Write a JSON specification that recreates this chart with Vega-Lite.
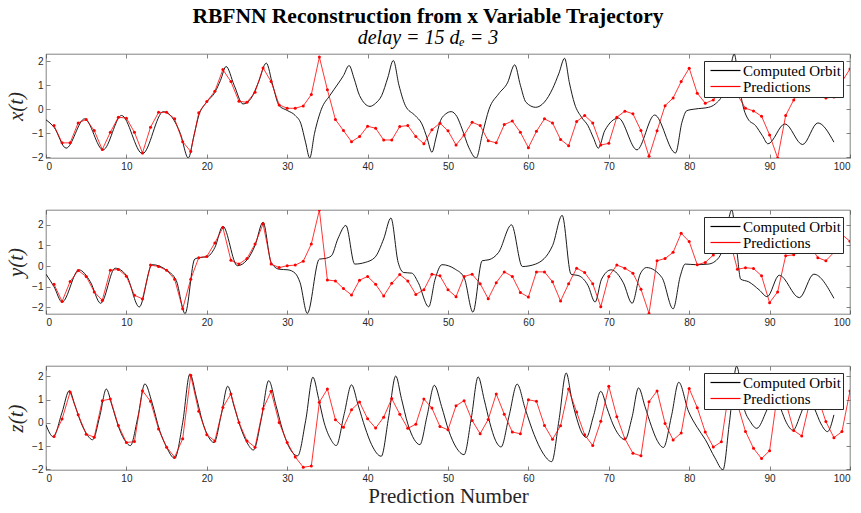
{
  "$schema": "https://vega.github.io/schema/vega-lite/v6.json",
  "background": "white",
  "padding": {"left": 5, "top": 5, "right": 9, "bottom": 4},
  "title": {
    "text": "RBFNN Reconstruction from x Variable Trajectory",
    "subtitle": "delay = 15  dₑ = 3",
    "font": "Liberation Serif", "fontSize": 21.5, "fontWeight": "bold", "color": "black",
    "subtitleFont": "Liberation Serif", "subtitleFontSize": 20, "subtitleFontStyle": "italic", "subtitleColor": "black",
    "anchor": "middle", "offset": 5, "subtitlePadding": 1
  },
  "spacing": 37,
  "datasets": {
    "orbitX": [
      {"t":0,"v":-0.44},{"t":1.0,"v":-0.75},{"t":2.5,"v":-1.62},{"t":4.8,"v":-0.40},{"t":7.1,"v":-1.69},{"t":9.4,"v":-0.26},{"t":12.0,"v":-1.85},{"t":14.6,"v":-0.10},{"t":15.7,"v":-0.35},{"t":16.7,"v":-1.0},{"t":17.7,"v":-2.03},{"t":18.4,"v":-1.1},{"t":19.0,"v":-0.26},{"t":20.0,"v":0.30},{"t":21.0,"v":0.70},{"t":21.7,"v":1.2},{"t":22.4,"v":1.78},{"t":23.4,"v":1.0},{"t":24.5,"v":0.22},{"t":25.5,"v":0.45},{"t":26.4,"v":1.1},{"t":27.4,"v":1.92},{"t":28.2,"v":1.0},{"t":29.0,"v":0.15},{"t":30.0,"v":-0.05},{"t":31.0,"v":-0.26},{"t":31.7,"v":-0.6},{"t":32.3,"v":-1.4},{"t":32.8,"v":-2.03},{"t":33.4,"v":-1.0},{"t":34.25,"v":0.0},{"t":35.3,"v":0.57},{"t":36.3,"v":1.05},{"t":37.0,"v":1.4},{"t":37.7,"v":1.82},{"t":38.3,"v":1.3},{"t":39.0,"v":0.57},{"t":40.3,"v":0.12},{"t":41.0,"v":0.25},{"t":41.75,"v":0.57},{"t":42.5,"v":1.3},{"t":43.2,"v":2.03},{"t":43.9,"v":1.0},{"t":44.7,"v":0.15},{"t":45.9,"v":-0.26},{"t":46.75,"v":-0.61},{"t":47.4,"v":-1.2},{"t":48.0,"v":-1.79},{"t":48.5,"v":-1.2},{"t":49.0,"v":-0.54},{"t":49.7,"v":-0.2},{"t":50.4,"v":-0.10},{"t":51.1,"v":-0.3},{"t":51.75,"v":-0.82},{"t":52.6,"v":-1.6},{"t":53.5,"v":-2.03},{"t":54.3,"v":-1.0},{"t":55.1,"v":0.0},{"t":56.3,"v":0.64},{"t":57.4,"v":1.1},{"t":58.3,"v":1.85},{"t":59.0,"v":1.0},{"t":59.7,"v":0.29},{"t":60.9,"v":0.08},{"t":62.0,"v":0.3},{"t":63.0,"v":0.85},{"t":63.8,"v":1.5},{"t":64.5,"v":2.12},{"t":65.1,"v":1.1},{"t":65.75,"v":0.22},{"t":66.6,"v":-0.33},{"t":67.4,"v":-0.68},{"t":68.1,"v":-1.2},{"t":68.7,"v":-1.62},{"t":69.5,"v":-0.89},{"t":71.2,"v":-0.37},{"t":73.5,"v":-1.69},{"t":75.7,"v":-0.24},{"t":78.3,"v":-1.82},{"t":79.1,"v":-0.54},{"t":79.7,"v":-0.06},{"t":80.75,"v":0.01},{"t":82.4,"v":0.08},{"t":83.25,"v":0.22},{"t":84.3,"v":0.71},{"t":85.0,"v":1.5},{"t":85.6,"v":2.3},{"t":86.2,"v":1.0},{"t":86.8,"v":0.0},{"t":87.3,"v":-0.4},{"t":88.25,"v":-0.68},{"t":89.1,"v":-1.1},{"t":89.8,"v":-1.44},{"t":91.9,"v":-0.61},{"t":94.1,"v":-1.47},{"t":96.0,"v":-0.57},{"t":98.0,"v":-1.37}
    ],
    "orbitY": [
      {"t":0,"v":-0.39},{"t":1.0,"v":-1.0},{"t":2.0,"v":-1.74},{"t":4.1,"v":-0.18},{"t":5.5,"v":-0.75},{"t":6.8,"v":-1.80},{"t":8.6,"v":-0.10},{"t":10.0,"v":-0.45},{"t":11.6,"v":-1.98},{"t":13.2,"v":0.07},{"t":15.0,"v":-0.2},{"t":16.2,"v":-0.7},{"t":17.3,"v":-2.3},{"t":18.5,"v":0.34},{"t":19.2,"v":0.42},{"t":20.0,"v":0.45},{"t":21.0,"v":0.9},{"t":22.0,"v":1.93},{"t":23.8,"v":0.02},{"t":25.0,"v":0.3},{"t":26.0,"v":1.0},{"t":27.0,"v":2.13},{"t":28.0,"v":0.18},{"t":29.0,"v":-0.15},{"t":30.1,"v":-0.18},{"t":31.0,"v":-0.35},{"t":31.6,"v":-0.8},{"t":32.5,"v":-2.29},{"t":34.0,"v":0.34},{"t":34.7,"v":0.37},{"t":35.5,"v":0.5},{"t":36.3,"v":1.32},{"t":37.3,"v":1.97},{"t":38.4,"v":0.10},{"t":39.7,"v":0.18},{"t":40.9,"v":0.42},{"t":42.0,"v":1.32},{"t":42.9,"v":2.33},{"t":43.8,"v":0.18},{"t":44.5,"v":-0.31},{"t":45.5,"v":-0.34},{"t":46.3,"v":-0.80},{"t":47.6,"v":-1.97},{"t":48.4,"v":-0.63},{"t":49.25,"v":0.07},{"t":50.9,"v":-0.15},{"t":52.0,"v":-0.55},{"t":53.1,"v":-2.23},{"t":54.25,"v":0.26},{"t":55.1,"v":0.31},{"t":56.3,"v":0.67},{"t":57.9,"v":2.0},{"t":59.25,"v":-0.02},{"t":60.9,"v":0.10},{"t":63.0,"v":0.99},{"t":64.2,"v":2.46},{"t":65.3,"v":-0.39},{"t":66.3,"v":-0.47},{"t":67.4,"v":-0.93},{"t":68.3,"v":-1.74},{"t":69.1,"v":-0.63},{"t":70.3,"v":-0.18},{"t":71.8,"v":-0.80},{"t":72.9,"v":-1.80},{"t":73.9,"v":-0.39},{"t":74.7,"v":-0.07},{"t":76.6,"v":-0.55},{"t":78.0,"v":-2.07},{"t":78.9,"v":-0.47},{"t":79.5,"v":0.10},{"t":80.75,"v":0.07},{"t":82.4,"v":0.10},{"t":83.7,"v":0.42},{"t":84.3,"v":0.99},{"t":85.3,"v":2.72},{"t":85.95,"v":0.67},{"t":86.4,"v":-0.63},{"t":87.4,"v":-0.76},{"t":88.7,"v":-1.15},{"t":89.7,"v":-1.48},{"t":91.2,"v":-0.44},{"t":93.7,"v":-1.53},{"t":95.5,"v":-0.39},{"t":98.0,"v":-1.56}
    ],
    "orbitZ": [
      {"t":0,"v":-0.09},{"t":0.9,"v":-0.60},{"t":2.0,"v":0.45},{"t":2.9,"v":1.38},{"t":3.6,"v":0.75},{"t":4.3,"v":0.05},{"t":5.0,"v":-0.45},{"t":5.8,"v":-0.73},{"t":6.7,"v":0.3},{"t":7.5,"v":1.45},{"t":8.2,"v":0.75},{"t":9.0,"v":-0.15},{"t":9.7,"v":-0.7},{"t":10.5,"v":-0.98},{"t":11.4,"v":0.2},{"t":12.3,"v":1.67},{"t":13.2,"v":0.85},{"t":14.1,"v":-0.3},{"t":15.0,"v":-1.05},{"t":16.0,"v":-1.53},{"t":17.0,"v":0.0},{"t":17.9,"v":2.10},{"t":18.7,"v":1.1},{"t":19.5,"v":0.0},{"t":20.2,"v":-0.6},{"t":20.9,"v":-0.85},{"t":21.8,"v":0.35},{"t":22.6,"v":1.57},{"t":23.4,"v":0.7},{"t":24.2,"v":-0.2},{"t":25.0,"v":-0.85},{"t":25.8,"v":-1.17},{"t":26.8,"v":0.2},{"t":27.7,"v":1.81},{"t":28.6,"v":0.75},{"t":29.5,"v":-0.4},{"t":30.4,"v":-1.15},{"t":31.3,"v":-1.42},{"t":32.3,"v":0.1},{"t":33.2,"v":1.96},{"t":33.9,"v":1.05},{"t":34.6,"v":0.0},{"t":35.4,"v":-0.7},{"t":36.1,"v":-0.98},{"t":37.1,"v":0.4},{"t":38.0,"v":1.63},{"t":38.8,"v":0.79},{"t":39.7,"v":-0.22},{"t":40.5,"v":-0.94},{"t":41.7,"v":-1.44},{"t":42.6,"v":0.2},{"t":43.5,"v":2.01},{"t":44.2,"v":1.05},{"t":45.0,"v":-0.05},{"t":45.8,"v":-0.72},{"t":46.5,"v":-0.94},{"t":47.4,"v":0.3},{"t":48.3,"v":1.61},{"t":49.2,"v":0.7},{"t":50.1,"v":-0.35},{"t":51.0,"v":-1.05},{"t":52.0,"v":-1.37},{"t":52.9,"v":0.2},{"t":53.75,"v":1.97},{"t":54.5,"v":1.0},{"t":55.2,"v":0.0},{"t":55.9,"v":-0.75},{"t":56.6,"v":-1.04},{"t":57.6,"v":0.3},{"t":58.6,"v":1.66},{"t":59.6,"v":0.6},{"t":60.7,"v":-0.5},{"t":61.8,"v":-1.3},{"t":62.9,"v":-1.67},{"t":63.8,"v":0.1},{"t":64.7,"v":2.14},{"t":65.4,"v":1.0},{"t":66.0,"v":0.2},{"t":66.6,"v":-0.4},{"t":67.2,"v":-0.63},{"t":68.1,"v":0.3},{"t":69.0,"v":1.35},{"t":69.8,"v":0.6},{"t":70.5,"v":-0.05},{"t":71.2,"v":-0.5},{"t":72.0,"v":-0.73},{"t":72.9,"v":0.25},{"t":73.7,"v":1.50},{"t":74.5,"v":0.7},{"t":75.3,"v":-0.15},{"t":76.0,"v":-0.75},{"t":76.8,"v":-1.06},{"t":77.8,"v":0.3},{"t":78.7,"v":1.74},{"t":79.9,"v":0.5},{"t":81.0,"v":-0.2},{"t":82.0,"v":-0.72},{"t":83.2,"v":-1.51},{"t":84.2,"v":-2.02},{"t":85.0,"v":0.0},{"t":85.9,"v":2.43},{"t":86.8,"v":0.65},{"t":87.6,"v":0.05},{"t":88.4,"v":-0.24},{"t":89.6,"v":0.5},{"t":90.6,"v":1.35},{"t":91.4,"v":0.6},{"t":92.1,"v":0.0},{"t":92.9,"v":-0.32},{"t":93.9,"v":0.4},{"t":94.8,"v":1.2},{"t":95.6,"v":0.6},{"t":96.4,"v":-0.05},{"t":97.2,"v":-0.38},{"t":98.0,"v":0.34}
    ],
    "pred": [
      {"n":1,"x":-0.68,"y":-0.88,"z":-0.59},{"n":2,"x":-1.40,"y":-1.71,"z":0.16},{"n":3,"x":-1.40,"y":-0.75,"z":1.32},{"n":4,"x":-0.57,"y":-0.21,"z":0.35},{"n":5,"x":-0.43,"y":-0.50,"z":-0.49},
      {"n":6,"x":-0.89,"y":-1.25,"z":-0.62},{"n":7,"x":-1.68,"y":-1.66,"z":0.95},{"n":8,"x":-0.96,"y":-0.20,"z":1.02},{"n":9,"x":-0.33,"y":-0.16,"z":-0.12},{"n":10,"x":-0.37,"y":-0.49,"z":-0.85},
      {"n":11,"x":-0.96,"y":-1.41,"z":-0.81},{"n":12,"x":-1.82,"y":-1.59,"z":1.38},{"n":13,"x":-0.75,"y":0.05,"z":0.92},{"n":14,"x":-0.13,"y":-0.02,"z":-0.27},{"n":15,"x":-0.13,"y":-0.20,"z":-1.05},
      {"n":16,"x":-0.40,"y":-0.63,"z":-1.48},{"n":17,"x":-1.35,"y":-2.07,"z":-0.69},{"n":18,"x":-1.76,"y":-0.63,"z":2.04},{"n":19,"x":-0.15,"y":0.41,"z":0.49},{"n":20,"x":0.32,"y":0.47,"z":-0.52},
      {"n":21,"x":0.75,"y":1.12,"z":-0.78},{"n":22,"x":1.65,"y":1.87,"z":0.66},{"n":23,"x":1.15,"y":0.28,"z":1.24},{"n":24,"x":0.33,"y":0.10,"z":0.01},{"n":25,"x":0.29,"y":0.37,"z":-0.78},
      {"n":26,"x":0.71,"y":1.07,"z":-1.05},{"n":27,"x":1.72,"y":2.05,"z":0.60},{"n":28,"x":1.15,"y":0.10,"z":1.35},{"n":29,"x":0.18,"y":-0.07,"z":0.01},{"n":30,"x":0.04,"y":0.02,"z":-0.85},
      {"n":31,"x":0.04,"y":0.05,"z":-1.47},{"n":32,"x":0.14,"y":0.24,"z":-1.91},{"n":33,"x":0.61,"y":1.07,"z":-1.86},{"n":34,"x":2.17,"y":2.72,"z":0.88},{"n":35,"x":0.81,"y":-0.67,"z":1.45},
      {"n":36,"x":-0.43,"y":-0.72,"z":0.13},{"n":37,"x":-0.89,"y":-1.09,"z":-0.19},{"n":38,"x":-1.35,"y":-1.40,"z":0.56},{"n":39,"x":-1.14,"y":-0.68,"z":0.89},{"n":40,"x":-0.71,"y":-0.50,"z":0.17},
      {"n":41,"x":-0.79,"y":-0.88,"z":-0.23},{"n":42,"x":-1.28,"y":-1.45,"z":0.24},{"n":43,"x":-1.28,"y":-0.83,"z":1.04},{"n":44,"x":-0.72,"y":-0.41,"z":0.37},{"n":45,"x":-0.68,"y":-0.72,"z":-0.24},
      {"n":46,"x":-1.14,"y":-1.37,"z":-0.06},{"n":47,"x":-1.44,"y":-1.15,"z":1.02},{"n":48,"x":-0.85,"y":-0.39,"z":0.63},{"n":49,"x":-0.58,"y":-0.47,"z":-0.16},{"n":50,"x":-0.90,"y":-1.15,"z":-0.30},
      {"n":51,"x":-1.49,"y":-1.48,"z":0.73},{"n":52,"x":-1.07,"y":-0.50,"z":0.95},{"n":53,"x":-0.54,"y":-0.39,"z":0.10},{"n":54,"x":-0.68,"y":-0.85,"z":-0.47},{"n":55,"x":-1.31,"y":-1.58,"z":0.14},
      {"n":56,"x":-1.40,"y":-0.80,"z":1.24},{"n":57,"x":-0.64,"y":-0.28,"z":0.37},{"n":58,"x":-0.49,"y":-0.50,"z":-0.40},{"n":59,"x":-0.96,"y":-1.28,"z":-0.47},{"n":60,"x":-1.60,"y":-1.50,"z":0.99},
      {"n":61,"x":-0.92,"y":-0.28,"z":0.92},{"n":62,"x":-0.40,"y":-0.28,"z":-0.12},{"n":63,"x":-0.57,"y":-0.76,"z":-0.71},{"n":64,"x":-1.26,"y":-1.69,"z":-0.13},{"n":65,"x":-1.52,"y":-0.86,"z":1.45},
      {"n":66,"x":-0.51,"y":-0.10,"z":0.46},{"n":67,"x":-0.26,"y":-0.31,"z":-0.52},{"n":68,"x":-0.57,"y":-0.85,"z":-0.98},{"n":69,"x":-1.49,"y":-1.97,"z":0.06},{"n":70,"x":-1.42,"y":-0.50,"z":1.57},
      {"n":71,"x":-0.33,"y":0.05,"z":0.26},{"n":72,"x":-0.08,"y":-0.10,"z":-0.69},{"n":73,"x":-0.19,"y":-0.34,"z":-1.31},{"n":74,"x":-0.89,"y":-1.12,"z":-1.42},{"n":75,"x":-1.96,"y":-2.29,"z":0.90},
      {"n":76,"x":-0.90,"y":0.26,"z":1.37},{"n":77,"x":0.15,"y":0.37,"z":-0.03},{"n":78,"x":0.47,"y":0.67,"z":-0.74},{"n":79,"x":1.15,"y":1.59,"z":-0.44},{"n":80,"x":1.71,"y":1.19,"z":1.47},
      {"n":81,"x":0.67,"y":0.07,"z":0.65},{"n":82,"x":0.25,"y":0.18,"z":-0.40},{"n":83,"x":0.39,"y":0.54,"z":-1.04},{"n":84,"x":0.8,"y":1.0,"z":-0.82},{"n":85,"x":1.2,"y":1.3,"z":1.5},
      {"n":86,"x":0.6,"y":-0.15,"z":0.8},{"n":87,"x":0.04,"y":-0.08,"z":-0.37},{"n":88,"x":-0.07,"y":-0.11,"z":-1.10},{"n":89,"x":-0.29,"y":-0.47,"z":-1.54},{"n":90,"x":-1.07,"y":-1.77,"z":-1.20},
      {"n":91,"x":-2.03,"y":-1.25,"z":1.3},{"n":92,"x":-0.26,"y":0.50,"z":0.9},{"n":93,"x":0.39,"y":0.55,"z":-0.33},{"n":94,"x":0.9,"y":1.2,"z":-0.57},{"n":95,"x":1.2,"y":1.0,"z":0.9},
      {"n":96,"x":0.9,"y":0.41,"z":1.1},{"n":97,"x":0.47,"y":0.26,"z":0.05},{"n":98,"x":0.51,"y":0.67,"z":-0.64},{"n":99,"x":1.15,"y":1.53,"z":-0.38},{"n":100,"x":1.68,"y":1.20,"z":1.37}
    ]
  },
  "vconcat": [
    {
      "width": 804, "height": 104,
      "layer": [
        {"data": {"name": "orbitX"}, "mark": {"type": "line", "interpolate": "monotone", "strokeWidth": 0.9, "clip": true},
         "encoding": {
           "x": {"field": "t", "type": "quantitative", "scale": {"domain": [0, 100], "nice": false}, "axis": {"orient": "bottom", "title": null, "values": [0,10,20,30,40,50,60,70,80,90,100]}},
           "y": {"field": "v", "type": "quantitative", "scale": {"domain": [-2.03, 2.3], "nice": false, "zero": false}, "axis": {"orient": "left", "title": "x(t)", "values": [-2,-1,0,1,2]}},
           "color": {"datum": "Computed Orbit", "type": "nominal", "scale": {"domain": ["Computed Orbit", "Predictions"], "range": ["#000000", "#ff0000"]}}
         }},
        {"data": {"name": "pred"}, "mark": {"type": "line", "strokeWidth": 0.8, "clip": true},
         "encoding": {
           "x": {"field": "n", "type": "quantitative", "axis": {"orient": "top", "labels": false, "title": null, "values": [0,10,20,30,40,50,60,70,80,90,100]}},
           "y": {"field": "x", "type": "quantitative", "axis": {"orient": "right", "labels": false, "title": null, "values": [-2,-1,0,1,2]}},
           "color": {"datum": "Predictions", "type": "nominal"}
         }},
        {"data": {"name": "pred"}, "mark": {"type": "point", "filled": true, "size": 9, "color": "#ff0000", "opacity": 1, "clip": true},
         "encoding": {
           "x": {"field": "n", "type": "quantitative", "axis": null},
           "y": {"field": "x", "type": "quantitative", "axis": null}
         }}
      ],
      "resolve": {"axis": {"x": "independent", "y": "independent"}}
    },
    {
      "width": 804, "height": 104,
      "layer": [
        {"data": {"name": "orbitY"}, "mark": {"type": "line", "interpolate": "monotone", "strokeWidth": 0.9, "clip": true},
         "encoding": {
           "x": {"field": "t", "type": "quantitative", "scale": {"domain": [0, 100], "nice": false}, "axis": {"orient": "bottom", "title": null, "values": [0,10,20,30,40,50,60,70,80,90,100]}},
           "y": {"field": "v", "type": "quantitative", "scale": {"domain": [-2.32, 2.72], "nice": false, "zero": false}, "axis": {"orient": "left", "title": "y(t)", "values": [-2,-1,0,1,2]}},
           "color": {"datum": "Computed Orbit", "type": "nominal", "scale": {"domain": ["Computed Orbit", "Predictions"], "range": ["#000000", "#ff0000"]}}
         }},
        {"data": {"name": "pred"}, "mark": {"type": "line", "strokeWidth": 0.8, "clip": true},
         "encoding": {
           "x": {"field": "n", "type": "quantitative", "axis": {"orient": "top", "labels": false, "title": null, "values": [0,10,20,30,40,50,60,70,80,90,100]}},
           "y": {"field": "y", "type": "quantitative", "axis": {"orient": "right", "labels": false, "title": null, "values": [-2,-1,0,1,2]}},
           "color": {"datum": "Predictions", "type": "nominal"}
         }},
        {"data": {"name": "pred"}, "mark": {"type": "point", "filled": true, "size": 9, "color": "#ff0000", "opacity": 1, "clip": true},
         "encoding": {
           "x": {"field": "n", "type": "quantitative", "axis": null},
           "y": {"field": "y", "type": "quantitative", "axis": null}
         }}
      ],
      "resolve": {"axis": {"x": "independent", "y": "independent"}}
    },
    {
      "width": 804, "height": 104,
      "layer": [
        {"data": {"name": "orbitZ"}, "mark": {"type": "line", "interpolate": "monotone", "strokeWidth": 0.9, "clip": true},
         "encoding": {
           "x": {"field": "t", "type": "quantitative", "scale": {"domain": [0, 100], "nice": false}, "axis": {"orient": "bottom", "title": "Prediction Number", "values": [0,10,20,30,40,50,60,70,80,90,100]}},
           "y": {"field": "v", "type": "quantitative", "scale": {"domain": [-2.03, 2.44], "nice": false, "zero": false}, "axis": {"orient": "left", "title": "z(t)", "values": [-2,-1,0,1,2]}},
           "color": {"datum": "Computed Orbit", "type": "nominal", "scale": {"domain": ["Computed Orbit", "Predictions"], "range": ["#000000", "#ff0000"]}}
         }},
        {"data": {"name": "pred"}, "mark": {"type": "line", "strokeWidth": 0.8, "clip": true},
         "encoding": {
           "x": {"field": "n", "type": "quantitative", "axis": {"orient": "top", "labels": false, "title": null, "values": [0,10,20,30,40,50,60,70,80,90,100]}},
           "y": {"field": "z", "type": "quantitative", "axis": {"orient": "right", "labels": false, "title": null, "values": [-2,-1,0,1,2]}},
           "color": {"datum": "Predictions", "type": "nominal"}
         }},
        {"data": {"name": "pred"}, "mark": {"type": "point", "filled": true, "size": 9, "color": "#ff0000", "opacity": 1, "clip": true},
         "encoding": {
           "x": {"field": "n", "type": "quantitative", "axis": null},
           "y": {"field": "z", "type": "quantitative", "axis": null}
         }}
      ],
      "resolve": {"axis": {"x": "independent", "y": "independent"}}
    }
  ],
  "resolve": {"scale": {"y": "independent", "color": "independent"}, "legend": {"color": "independent"}},
  "config": {
    "view": {"stroke": "#4d4d4d", "strokeWidth": 0.7},
    "axis": {
      "domain": false, "grid": false, "ticks": true, "tickSize": -4, "tickColor": "#4d4d4d", "tickWidth": 0.7,
      "labelFont": "Liberation Sans", "labelFontSize": 10, "labelColor": "#262626", "labelPadding": 7,
      "titleFont": "Liberation Serif", "titleFontSize": 21, "titleFontWeight": "normal", "titleColor": "#262626"
    },
    "axisLeft": {"titleFontStyle": "italic", "titlePadding": 5},
    "axisBottom": {"titlePadding": 2},
    "legend": {
      "orient": "top-right", "offset": 7, "title": null, "symbolType": "M-3,0H3", "symbolSize": 100,
      "symbolStrokeWidth": 1.2, "labelFont": "Liberation Serif", "labelFontSize": 15, "labelColor": "black",
      "fillColor": "white", "strokeColor": "#262626", "padding": 2, "rowPadding": 0, "labelOffset": 10, "symbolOffset": 12
    }
  }
}
